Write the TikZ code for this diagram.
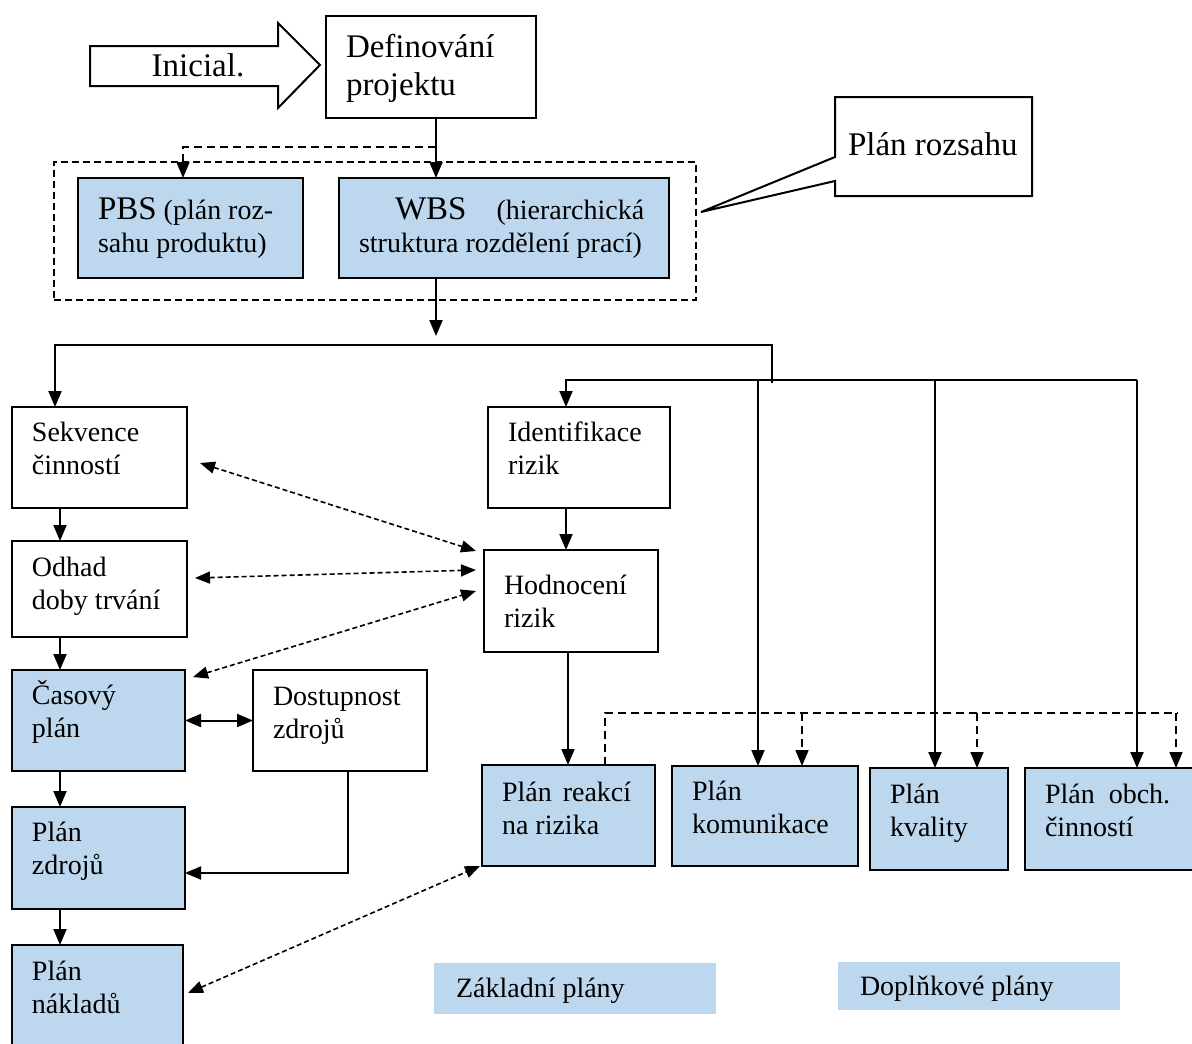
\documentclass[tikz,border=0pt]{standalone}
\usepackage{fontspec}
\setmainfont{Liberation Serif}
\usetikzlibrary{arrows.meta,calc}
\definecolor{planblue}{RGB}{189,215,238}
\newcommand\regtxt{\fontsize{28}{33}\selectfont}
\newcommand\bigtxt{\fontsize{33}{38}\selectfont}
% text block of a box: #2 width, #3 height, #4 distance of the first baseline from the top
\newcommand\cellbox[5][\regtxt]{%
  \parbox[c][#3pt][t]{#2pt}{#1\raggedright\leftskip=20pt
    \vspace*{\dimexpr#4pt-0.7\baselineskip\relax}\strut#5\par}}
\begin{document}
\begin{tikzpicture}[x=1pt,y=-1pt,
  box/.style={draw, line width=2pt, inner sep=0pt, outer sep=0pt, anchor=north west},
  planbox/.style={box, fill=planblue},
  legendbox/.style={fill=planblue, inner sep=0pt, outer sep=0pt, anchor=north west},
  grpbox/.style={draw, line width=1.6pt, dash pattern=on 7pt off 4pt, inner sep=0pt,
    outer sep=0pt, anchor=north west},
  conn/.style={line width=2pt, -{Triangle[width=13pt,length=16pt]}},
  biconn/.style={line width=2pt, {Triangle[width=13pt,length=16pt]}-{Triangle[width=13pt,length=16pt]}},
  dline/.style={line width=1.6pt, dash pattern=on 8pt off 5pt},
  dconn/.style={dline, -{Triangle[width=13pt,length=16pt]}},
  dbi/.style={line width=1.6pt, dash pattern=on 5pt off 3pt,
    {Triangle[width=12pt,length=15pt]}-{Triangle[width=12pt,length=15pt]}},
]
\useasboundingbox (0,0) rectangle (1192,1044);
\clip (0,0) rectangle (1192,1044);

% guide coordinates for connector columns and rows
\coordinate (xa) at (436,0);
\coordinate (xb) at (183,0);
\coordinate (xl) at (60,0);
\coordinate (xs) at (55,0);
\coordinate (xr) at (566,0);
\coordinate (xh) at (568,0);
\coordinate (xd) at (348,0);
\coordinate (xk) at (758,0);
\coordinate (xq) at (935,0);
\coordinate (xo) at (1137,0);
\coordinate (xe1) at (605,0);
\coordinate (xe2) at (802,0);
\coordinate (xe3) at (977,0);
\coordinate (xe4) at (1176,0);
\coordinate (ysplit) at (0,147);
\coordinate (yz) at (0,873);
\coordinate (bus) at (0,713);
\coordinate (busend) at (1178,713);
\coordinate (wbsend) at (436,336);
\coordinate (hub1) at (772,383);
\coordinate (bend1) at (772,345);
\coordinate (bend2) at (1137,380);
\coordinate (ptip) at (701,212);

% block arrow
\draw[line width=2pt, fill=white, line join=miter]
  (90,46) -- (278,46) -- (278,23) -- (320,65) -- (278,108) -- (278,86) -- (90,86) -- cycle;
\node[font=\bigtxt, anchor=base, inner sep=0pt] (ini) at (198,76) {Inicial.};

% dashed frame round PBS and WBS
\node[grpbox, minimum width=642pt, minimum height=138pt] (grp) at (54,162) {};

% boxes
\node[box] (def) at (326,16) {\cellbox[\bigtxt]{210}{102}{41}{Definování\\projektu}};
\node[planbox] (pbs) at (78,178) {\cellbox{225}{100}{41}{{\bigtxt PBS} (plán roz-\\sahu produktu)}};
\node[planbox] (wbs) at (339,178) {\cellbox{330}{100}{41}{\hspace*{36pt}{\bigtxt WBS}\hspace{30pt}(hierarchická\\struktura rozdělení prací)}};
\node[inner sep=0pt, outer sep=0pt, anchor=north west] (roz) at (835,97)
  {\cellbox[\bigtxt]{197}{99}{58}{\hspace*{-7pt}Plán rozsahu}};
\draw[line width=2pt, line join=miter]
  (roz.south west) -- ($(roz.north west)+(0,84)$) -- (ptip) -- ($(roz.north west)+(0,60)$)
  -- (roz.north west) -- (roz.north east) -- (roz.south east) -- cycle;

\node[box] (sek) at (12,407) {\cellbox{175}{101}{34}{Sekvence\\činností}};
\node[box] (odh) at (12,541) {\cellbox{175}{96}{35}{Odhad\\doby trvání}};
\node[planbox] (cas) at (12,670) {\cellbox{173}{101}{34}{Časový\\plán}};
\node[box] (dos) at (253,670) {\cellbox{174}{101}{35}{Dostupnost\\zdrojů}};
\node[planbox] (pzd) at (12,807) {\cellbox{173}{102}{34}{Plán\\zdrojů}};
\node[planbox] (pnk) at (12,945) {\cellbox{171}{125}{35}{Plán\\nákladů}};
\node[box] (idr) at (488,407) {\cellbox{182}{101}{34}{Identifikace\\rizik}};
\node[box] (hod) at (484,550) {\cellbox{174}{102}{44}{Hodnocení\\rizik}};
\node[planbox] (pre) at (482,765) {\cellbox{173}{101}{36}{Plán\hspace{11pt}reakcí\\na rizika}};
\node[planbox] (pko) at (672,766) {\cellbox{186}{100}{34}{Plán\\komunikace}};
\node[planbox] (pkv) at (870,768) {\cellbox{138}{102}{35}{Plán\\kvality}};
\node[planbox] (pob) at (1025,768) {\cellbox{195}{102}{35}{Plán\hspace{14pt}obch.\\činností}};

% legend
\node[legendbox] (zak) at (434,963) {\cellbox{282}{51}{34}{\hspace*{2pt}Základní plány}};
\node[legendbox] (dop) at (838,962) {\cellbox{282}{48}{33}{\hspace*{2pt}Doplňkové plány}};

% connectors at the top
\draw[conn] (def.south -| xa) -- (wbs.north -| xa);
\draw[dconn] (xa |- ysplit) -| (pbs.north -| xb);
\draw[conn] (wbs.south -| xa) -- (wbsend);
\draw[conn] (hub1) -- (bend1) -| (sek.north -| xs);
\draw[conn] (bend2) -| (idr.north -| xr);
\draw[conn] (xk |- bend2) -- (pko.north -| xk);
\draw[conn] (xq |- bend2) -- (pkv.north -| xq);
\draw[conn] (bend2) -- (pob.north -| xo);

% left column
\draw[conn] (sek.south -| xl) -- (odh.north -| xl);
\draw[conn] (odh.south -| xl) -- (cas.north -| xl);
\draw[conn] (cas.south -| xl) -- (pzd.north -| xl);
\draw[conn] (pzd.south -| xl) -- (pnk.north -| xl);
\draw[biconn] (cas.east) -- (dos.west);
\draw[conn] (dos.south -| xd) |- (pzd.east |- yz);

% risk column
\draw[conn] (idr.south -| xr) -- (hod.north -| xr);
\draw[conn] (hod.south -| xh) -- (pre.north -| xh);

% dashed links
\draw[dbi] ($(sek.north east)+(13,56)$) -- ($(hod.north west)+(-8,1)$);
\draw[dbi] ($(odh.north east)+(8,37)$) -- ($(hod.north west)+(-8,20)$);
\draw[dbi] ($(cas.north east)+(8,7)$) -- ($(hod.north west)+(-8,41)$);
\draw[dbi] ($(pnk.north east)+(5,48)$) -- ($(pre.south west)+(-2,0)$);

% dashed bus over the supplementary plans
\draw[dline] (pre.north -| xe1) -- (xe1 |- bus) -- (busend);
\draw[dconn] (xe2 |- bus) -- (pko.north -| xe2);
\draw[dconn] (xe3 |- bus) -- (pkv.north -| xe3);
\draw[dconn] (xe4 |- bus) -- (pob.north -| xe4);
\end{tikzpicture}
\end{document}
